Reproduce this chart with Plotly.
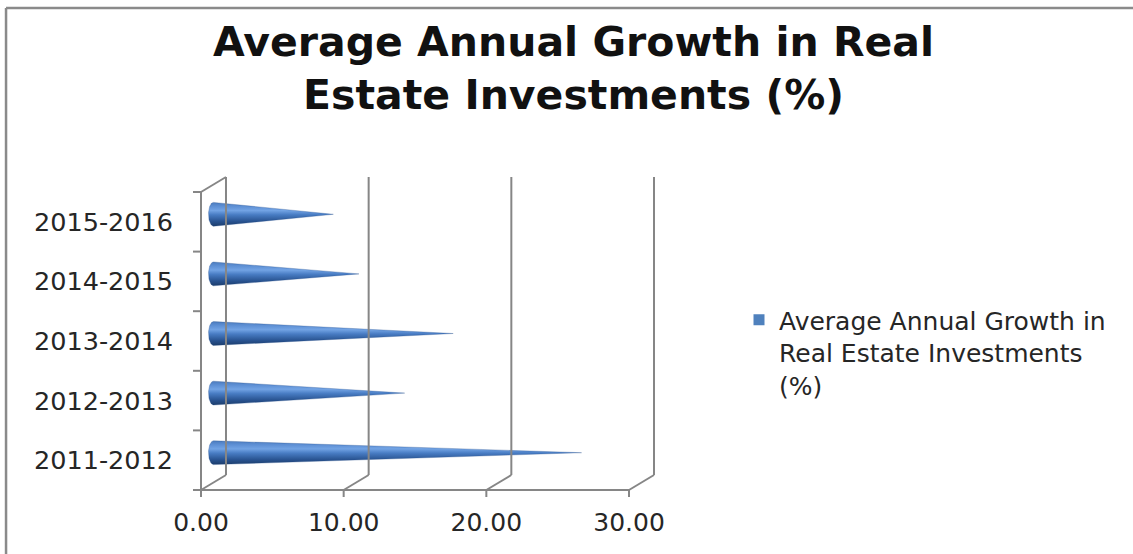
import numpy as np
import plotly.graph_objects as go

# ---- data -------------------------------------------------------------
periods = ["2011-2012", "2012-2013", "2013-2014", "2014-2015", "2015-2016"]
growth = [25.8, 13.4, 16.8, 10.2, 8.4]
x_tick_vals = [0, 10, 20, 30]
x_tick_text = ["0.00", "10.00", "20.00", "30.00"]
series_name = "Average Annual Growth in<br>Real Estate Investments<br>(%)"
chart_title = "Average Annual Growth in Real<br>Estate Investments (%)"

# ---- geometry of the 3-D frame (pixels) -------------------------------
W, H = 1133, 554
X0_PX, Y0_PX = 201, 490        # front-plane origin
PX_PER_X, PX_PER_Y = 14.27, 59.6
DEPTH_DX_PX, DEPTH_DY_PX = 25, 15

n = len(periods)
dx = DEPTH_DX_PX / PX_PER_X    # depth offset in data units
dy = DEPTH_DY_PX / PX_PER_Y

xmin, xmax = -10 / PX_PER_X, x_tick_vals[-1] + dx + 2 / PX_PER_X
ymin, ymax = -10 / PX_PER_Y, n + dy + 3 / PX_PER_Y

m_l = X0_PX + xmin * PX_PER_X
m_r = W - (X0_PX + xmax * PX_PER_X)
m_b = H - (Y0_PX - ymin * PX_PER_Y)
m_t = Y0_PX - ymax * PX_PER_Y

GRID = "#868686"
TEXT = "#262626"
fig = go.Figure()

# ---- cones ------------------------------------------------------------
cone_half_h = 0.2
base_half_w = 5 / PX_PER_X
cone_scale = [
    [0.0, "#1c3d6b"],
    [0.2, "#28528f"],
    [0.48, "#487cc3"],
    [0.66, "#72a3e4"],
    [0.84, "#5d8fd4"],
    [1.0, "#4b7bbd"],
]
for i, (label, v) in enumerate(zip(periods, growth)):
    cy = i + 0.5 + dy / 2
    bx = dx / 2
    theta = np.linspace(np.pi / 2, 3 * np.pi / 2, 40)
    xs = list(bx + base_half_w * np.cos(theta)) + [v + dx / 2, bx]
    ys = list(cy + cone_half_h * np.sin(theta)) + [cy, cy + cone_half_h]
    fig.add_trace(go.Scatter(
        x=xs, y=ys, mode="lines", fill="toself",
        line=dict(width=0.6, color="rgba(40,80,140,0.5)"),
        fillgradient=dict(type="vertical", colorscale=cone_scale),
        showlegend=False, hoverinfo="skip", name=label,
    ))

# legend entry for the series
fig.add_trace(go.Scatter(
    x=[None], y=[None], mode="markers", name=series_name,
    marker=dict(symbol="square", size=11, color="#4f81bd"),
    showlegend=True,
))

# ---- 3-D frame: back wall, floor, front axes, ticks --------------------
shapes = []
def seg(x0, y0, x1, y1):
    shapes.append(dict(type="line", xref="x", yref="y", x0=x0, y0=y0,
                       x1=x1, y1=y1, line=dict(color=GRID, width=2)))

for v in x_tick_vals:
    seg(v + dx, dy, v + dx, n + dy)        # back-wall gridline
    seg(v, 0, v + dx, dy)                  # floor diagonal
    seg(v, 0, v, -7 / PX_PER_Y)            # x tick mark
seg(0, 0, x_tick_vals[-1], 0)              # front x axis
seg(0, 0, 0, n)                            # front y axis
seg(0, n, dx, n + dy)                      # left wall top edge
for k in range(n + 1):
    seg(-8 / PX_PER_X, k, 0, k)            # y tick mark

# outer chart border (top and left edges visible)
def px_to_paper_x(px):
    return (px - m_l) / (W - m_l - m_r)
def px_to_paper_y(py):
    return (H - m_b - py) / (H - m_t - m_b)

border = dict(color="#8a8a8a", width=2.5)
shapes.append(dict(type="line", xref="paper", yref="paper",
                   x0=px_to_paper_x(6), y0=px_to_paper_y(8),
                   x1=px_to_paper_x(W + 10), y1=px_to_paper_y(8), line=border))
shapes.append(dict(type="line", xref="paper", yref="paper",
                   x0=px_to_paper_x(6), y0=px_to_paper_y(8),
                   x1=px_to_paper_x(6), y1=px_to_paper_y(H + 10), line=border))

fig.add_annotation(
    text=chart_title, xref="paper", yref="paper",
    x=px_to_paper_x(573.5), y=px_to_paper_y(68),
    xanchor="center", yanchor="middle", showarrow=False,
    font=dict(family="DejaVu Sans", size=41, color="#111111", weight="bold"),
)

fig.update_layout(
    width=W, height=H,
    margin=dict(l=m_l, r=m_r, t=m_t, b=m_b, autoexpand=False),
    paper_bgcolor="white", plot_bgcolor="white",
    shapes=shapes,
    xaxis=dict(
        range=[xmin, xmax], tickvals=x_tick_vals, ticktext=x_tick_text,
        showgrid=False, zeroline=False, showline=False, ticks="",
        tickfont=dict(family="DejaVu Sans", size=25, color=TEXT),
        ticklabelstandoff=5, fixedrange=True,
    ),
    yaxis=dict(
        range=[ymin, ymax], tickvals=[i + 0.5 for i in range(n)], ticktext=periods,
        showgrid=False, zeroline=False, showline=False, ticks="",
        tickfont=dict(family="DejaVu Sans", size=25.5, color=TEXT),
        ticklabelstandoff=17, fixedrange=True,
    ),
    legend=dict(
        xref="container", x=739 / W, xanchor="left",
        yref="container", y=1 - 297 / H, yanchor="top",
        valign="top", bgcolor="rgba(0,0,0,0)",
        font=dict(family="DejaVu Sans", size=25, color=TEXT),
    ),
    showlegend=True,
)

fig.write_html("out.html")
